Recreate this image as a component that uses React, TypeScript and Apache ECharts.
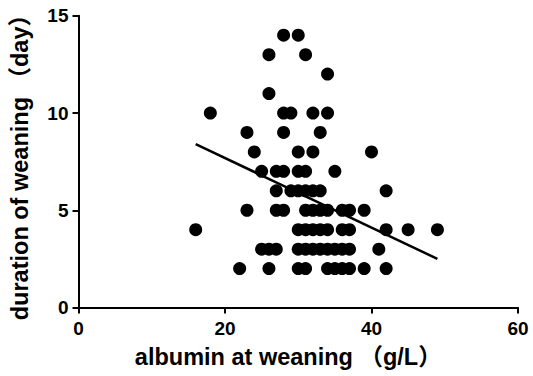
import React, { useEffect, useRef } from "react";
import * as echarts from "echarts";

// Albumin at weaning (g/L) and duration of weaning (day) for each patient
const albumin: number[] = [
  28, 30,
  26, 31,
  34,
  26,
  18, 28, 29, 32, 34,
  23, 28, 33,
  24, 30, 32, 40,
  25, 27, 28, 30, 31, 35,
  27, 29, 30, 31, 32, 33, 42,
  23, 27, 28, 31, 32, 33, 34, 36, 37, 39,
  16, 30, 31, 32, 33, 34, 36, 37, 42, 45, 49,
  25, 26, 27, 30, 31, 32, 33, 34, 35, 36, 37, 41,
  22, 26, 30, 31, 34, 35, 36, 37, 39, 42,
];
const duration: number[] = [
  14, 14,
  13, 13,
  12,
  11,
  10, 10, 10, 10, 10,
  9, 9, 9,
  8, 8, 8, 8,
  7, 7, 7, 7, 7, 7,
  6, 6, 6, 6, 6, 6, 6,
  5, 5, 5, 5, 5, 5, 5, 5, 5, 5,
  4, 4, 4, 4, 4, 4, 4, 4, 4, 4, 4,
  3, 3, 3, 3, 3, 3, 3, 3, 3, 3, 3, 3,
  2, 2, 2, 2, 2, 2, 2, 2, 2, 2,
];

// Regression line endpoints
const fitX: number[] = [16, 49];
const fitY: number[] = [8.4, 2.5];

const FONT = "'Liberation Sans', Arial, 'Noto Sans CJK SC', sans-serif";

export default function App() {
  const ref = useRef<HTMLDivElement>(null);
  useEffect(() => {
    if (!ref.current) return;
    const chart = echarts.init(ref.current, undefined, { renderer: "svg" });
    const points = albumin.map((x, i) => [x, duration[i]]);
    const fit = fitX.map((x, i) => [x, fitY[i]]);
    const axisCommon = {
      axisLine: { show: true, lineStyle: { color: "#000", width: 2 } },
      axisTick: { show: true, length: 6, lineStyle: { color: "#000", width: 2 } },
      splitLine: { show: false },
      nameLocation: "middle" as const,
    };
    const labelStyle = { color: "#000", fontSize: 19, fontWeight: "bold" as const, fontFamily: FONT };
    const nameStyle = { color: "#000", fontSize: 23.5, fontWeight: "bold" as const, fontFamily: FONT };
    chart.setOption({
      animation: false,
      backgroundColor: "#fff",
      grid: { left: 78, right: 15, top: 14, bottom: 68.5 },
      xAxis: {
        type: "value",
        min: 0,
        max: 60,
        interval: 20,
        name: "albumin at weaning （g/L）",
        nameGap: 38,
        ...axisCommon,
        axisLabel: { ...labelStyle, margin: 11 },
        nameTextStyle: { ...nameStyle, padding: [0, 20, 0, 0] },
      },
      yAxis: {
        type: "value",
        min: 0,
        max: 15,
        interval: 5,
        name: "duration of weaning （day）",
        nameGap: 47,
        ...axisCommon,
        axisLabel: { ...labelStyle, margin: 10 },
        nameTextStyle: { ...nameStyle },
      },
      series: [
        {
          type: "scatter",
          data: points,
          symbolSize: 13,
          itemStyle: { color: "#000", opacity: 1 },
        },
        {
          type: "line",
          data: fit,
          symbol: "none",
          lineStyle: { color: "#000", width: 2.5 },
        },
      ],
    });
    return () => chart.dispose();
  }, []);
  return (
    <div
      ref={ref}
      style={{ position: "fixed", left: 0, top: 0, width: 533, height: 376 }}
    />
  );
}
